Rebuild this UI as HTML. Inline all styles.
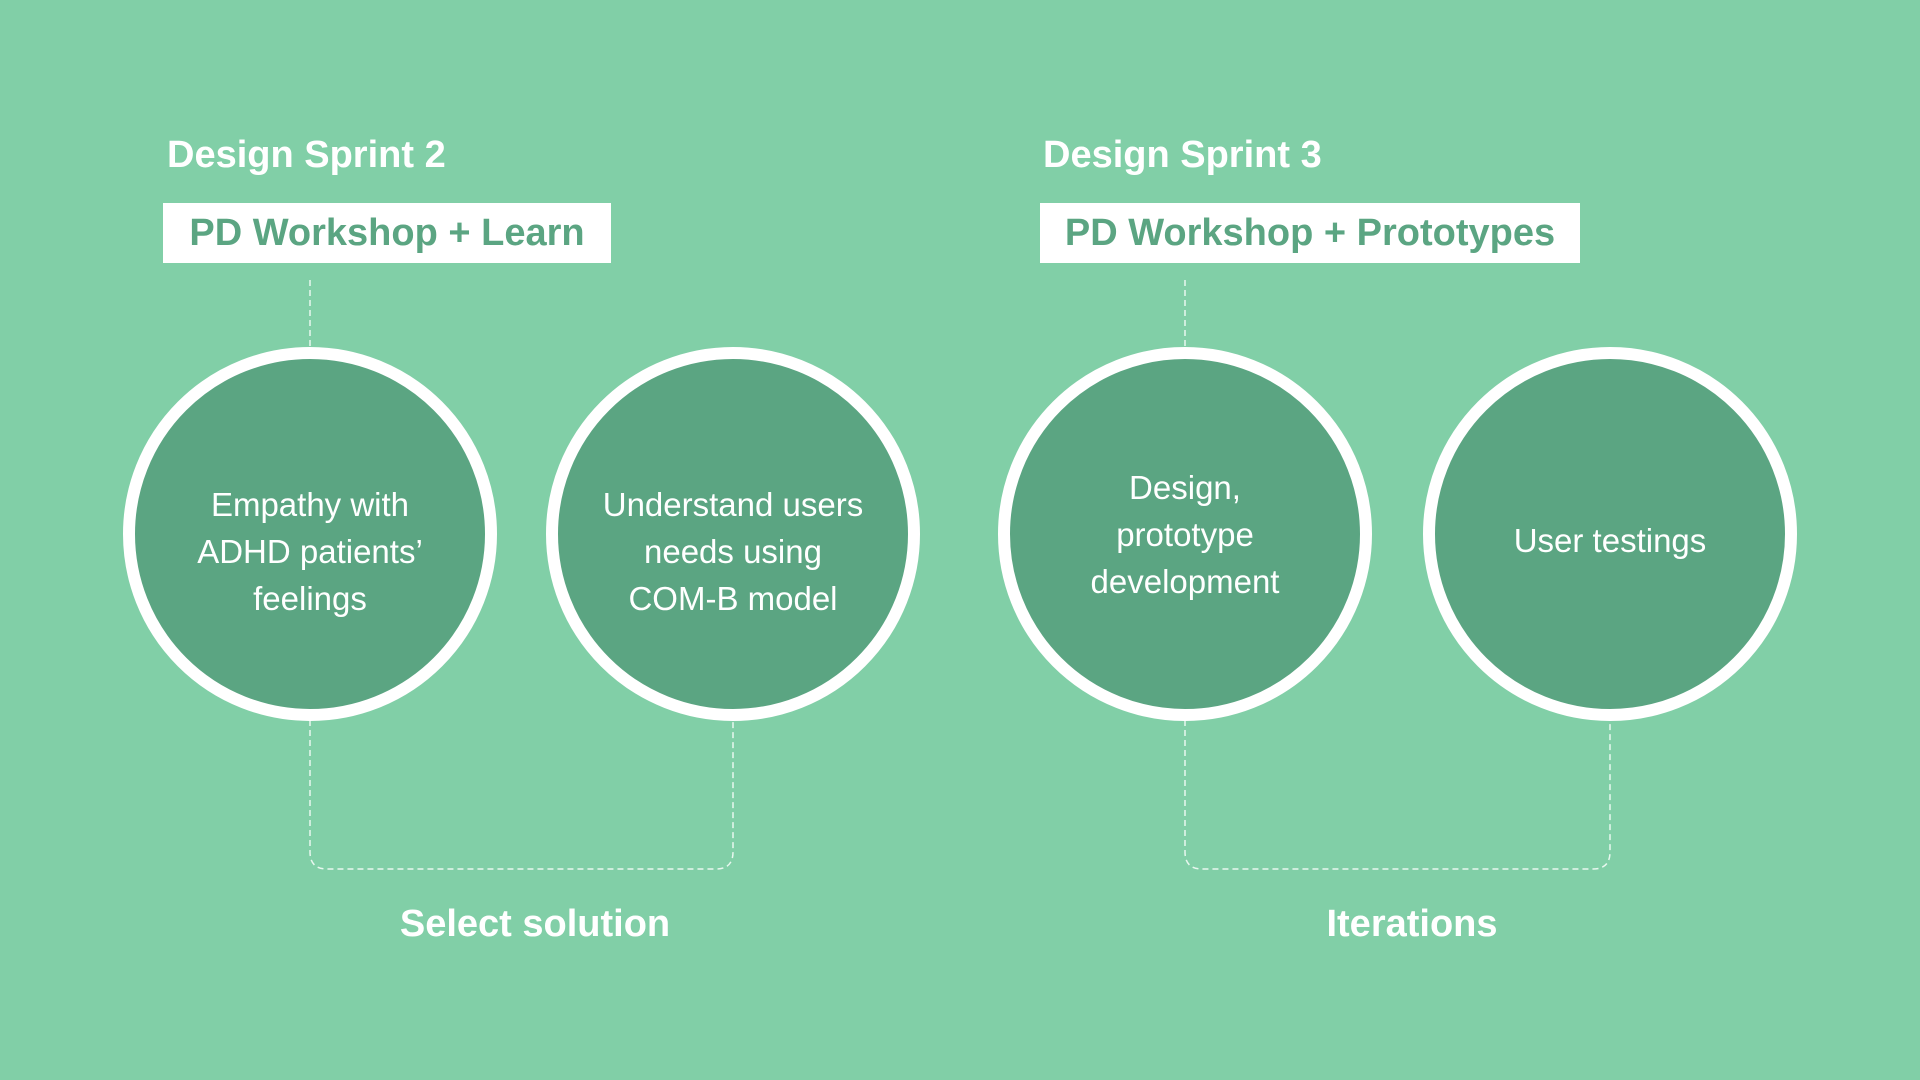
<!DOCTYPE html>
<html><head><meta charset="utf-8"><style>
html,body{margin:0;padding:0}
body{width:1920px;height:1080px;background:#81CFA7;position:relative;overflow:hidden;font-family:"Liberation Sans",sans-serif}
.t{position:absolute;color:#fff;font-weight:bold;font-size:38px;white-space:nowrap}
.box{position:absolute;background:#fff;color:#5BA582;font-weight:bold;font-size:38px;height:60px;line-height:60px;top:203px;text-align:center}
.c{position:absolute;width:350px;height:350px;border:12px solid #fff;border-radius:50%;background:#5BA582;top:347px;display:flex;align-items:center;justify-content:center;text-align:center;color:#fff;font-size:33px;line-height:47px}
.c span{position:relative}
.lbl{position:absolute;color:#fff;font-weight:bold;font-size:38px;top:903px;width:500px;text-align:center}
</style></head><body>
<svg width="1920" height="1080" style="position:absolute;left:0;top:0" fill="none" stroke="#e8f7ef" stroke-width="1.5" stroke-dasharray="6,4">
<path d="M310 280 V347"/>
<path d="M1185 280 V347"/>
<path d="M310 720 V852 Q310 869 327 869 H716 Q733 869 733 852 V720"/>
<path d="M1185 720 V852 Q1185 869 1202 869 H1593 Q1610 869 1610 852 V720"/>
</svg>
<div class="t" style="left:167px;top:134px">Design Sprint 2</div>
<div class="t" style="left:1043px;top:134px">Design Sprint 3</div>
<div class="box" style="left:163px;width:448px">PD Workshop + Learn</div>
<div class="box" style="left:1040px;width:540px">PD Workshop + Prototypes</div>
<div class="c" style="left:123px"><span style="top:17px">Empathy with<br>ADHD patients’<br>feelings</span></div>
<div class="c" style="left:546px"><span style="top:17px">Understand users<br>needs using<br>COM-B model</span></div>
<div class="c" style="left:998px"><span>Design,<br>prototype<br>development</span></div>
<div class="c" style="left:1423px"><span style="top:6px">User testings</span></div>
<div class="lbl" style="left:285px">Select solution</div>
<div class="lbl" style="left:1162px">Iterations</div>
</body></html>
